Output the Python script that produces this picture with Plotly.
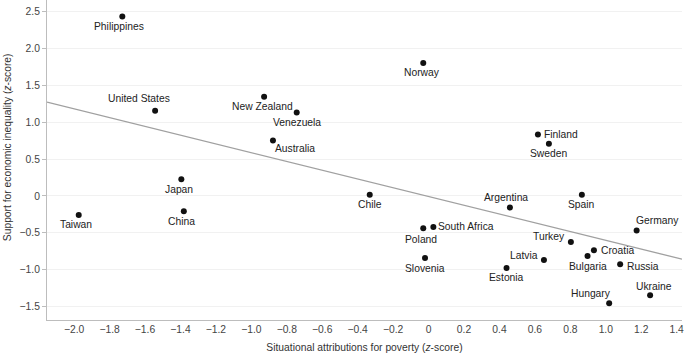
import plotly.graph_objects as go

countries = ["Philippines", "United States", "New Zealand", "Venezuela", "Australia",
             "Norway", "Finland", "Sweden", "Japan", "China", "Taiwan", "Chile",
             "Argentina", "Spain", "Germany", "Poland", "South Africa", "Slovenia",
             "Turkey", "Croatia", "Bulgaria", "Latvia", "Estonia", "Russia",
             "Ukraine", "Hungary"]
situational = [-1.728, -1.543, -0.928, -0.744, -0.878,
               -0.030, 0.617, 0.679, -1.395, -1.381, -1.974, -0.332,
               0.459, 0.865, 1.174, -0.030, 0.027, -0.020,
               0.803, 0.933, 0.897, 0.651, 0.440, 1.081,
               1.250, 1.019]
support = [2.436, 1.155, 1.345, 1.132, 0.752,
           1.803, 0.833, 0.707, 0.227, -0.208, -0.258, 0.014,
           -0.159, 0.014, -0.471, -0.439, -0.421, -0.842,
           -0.625, -0.738, -0.815, -0.870, -0.978, -0.928,
           -1.349, -1.458]

# fitted regression line
fit_slope = -0.595
fit_intercept = -0.008
x_range = [-2.153, 1.43]
y_range = [-1.685, 2.66]

x_tickvals = [-2.0, -1.8, -1.6, -1.4, -1.2, -1.0, -0.8, -0.6, -0.4, -0.2, 0.0, 0.2, 0.4, 0.6, 0.8, 1.0, 1.2, 1.4]
x_ticktext = ["\u22122.0", "\u22121.8", "\u22121.6", "\u22121.4", "\u22121.2", "\u22121.0", "\u22120.8", "\u22120.6",
              "\u22120.4", "\u22120.2", "0", "0.2", "0.4", "0.6", "0.8", "1.0", "1.2", "1.4"]
y_tickvals = [-1.5, -1.0, -0.5, 0.0, 0.5, 1.0, 1.5, 2.0, 2.5]
y_ticktext = ["\u22121.5", "\u22121.0", "\u22120.5", "0", "0.5", "1.0", "1.5", "2.0", "2.5"]

# label placement (style): (xanchor, xshift, yshift)
label_style = {
    "Philippines": ("center", -3, -10),
    "United States": ("center", -16, 12),
    "New Zealand": ("center", -2, -10),
    "Venezuela": ("center", 0, -10),
    "Australia": ("left", 0, -8),
    "Norway": ("center", -1, -9),
    "Finland": ("left", 4, 0),
    "Sweden": ("center", 0, -10),
    "Japan": ("center", -2, -10),
    "China": ("center", -2, -10),
    "Taiwan": ("center", -3, -10),
    "Chile": ("center", 0, -10),
    "Argentina": ("center", -4, 10),
    "Spain": ("center", 0, -10),
    "Germany": ("left", -3, 10),
    "Poland": ("center", -2, -11),
    "South Africa": ("left", 3, 0),
    "Slovenia": ("center", 0, -11),
    "Turkey": ("right", -4, 5),
    "Croatia": ("left", 5, 0),
    "Bulgaria": ("center", 0, -11),
    "Latvia": ("right", -4, 4),
    "Estonia": ("center", 0, -10),
    "Russia": ("left", 5, -2),
    "Ukraine": ("center", 4, 9),
    "Hungary": ("center", -18, 10),
}

FONT = "Liberation Sans, Arial, sans-serif"

fig = go.Figure()

fit_y = [fit_intercept + fit_slope * x for x in x_range]
fig.add_trace(go.Scatter(x=x_range, y=fit_y, mode="lines",
                         line=dict(color="#a0a0a0", width=1.3),
                         hoverinfo="skip", showlegend=False))

fig.add_trace(go.Scatter(x=situational, y=support, mode="markers",
                         marker=dict(color="#111111", size=6),
                         text=countries, showlegend=False))

annotations = []
for name, xv, yv in zip(countries, situational, support):
    xa, xs, ys = label_style[name]
    annotations.append(dict(x=xv, y=yv, xref="x", yref="y", text=name,
                            showarrow=False, xanchor=xa, yanchor="middle",
                            xshift=xs, yshift=ys,
                            font=dict(family=FONT, size=10.3, color="#222222")))

annotations.append(dict(x=-0.063, y=0.54, xref="paper", yref="paper",
                        text="Support for economic inequality (<i>z</i>-score)",
                        textangle=-90, showarrow=False, xanchor="center", yanchor="middle",
                        font=dict(family=FONT, size=10.3, color="#333333")))

fig.update_layout(
    width=685, height=355,
    margin=dict(l=47, r=3, t=0, b=35),
    paper_bgcolor="white", plot_bgcolor="white",
    font=dict(family=FONT, size=10.3, color="#444444"),
    annotations=annotations,
    xaxis=dict(range=x_range, tickvals=x_tickvals, ticktext=x_ticktext,
               showgrid=False, zeroline=False, showline=True,
               linecolor="#bdbdbd", linewidth=1, ticks="",
               tickfont=dict(family=FONT, size=10.3, color="#444444"),
               title=dict(text="Situational attributions for poverty (<i>z</i>-score)",
                          font=dict(family=FONT, size=10.3, color="#333333"),
                          standoff=9),
               automargin=False),
    yaxis=dict(range=y_range, tickvals=y_tickvals, ticktext=y_ticktext,
               showgrid=True, gridcolor="#f1f1f1", gridwidth=1,
               zeroline=False, showline=True,
               linecolor="#bdbdbd", linewidth=1,
               ticks="outside", ticklen=4, tickcolor="#bdbdbd",
               tickfont=dict(family=FONT, size=10.3, color="#444444"),
               automargin=False),
)

fig.write_html("out.html",
               config={"displayModeBar": False},
               post_script="document.body.style.margin='0';document.body.style.overflow='hidden';")
